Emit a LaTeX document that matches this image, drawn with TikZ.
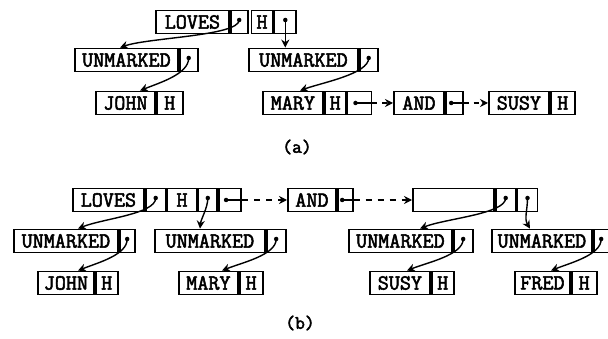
\documentclass[tikz,border=0pt]{standalone}
\usepackage{fontspec}
\usetikzlibrary{arrows.meta}
\newfontfamily\wordfont{Latin Modern Mono}[BoldFont={Latin Modern Mono},BoldFeatures={FakeBold=2.5}]
\newcommand\cellfont{\wordfont\bfseries\fontsize{21.5}{22}\selectfont}
\newcommand\capfont{\wordfont\bfseries\fontsize{19}{20}\selectfont}
\begin{document}
\begin{tikzpicture}[x=1pt,y=-1pt,
  cell/.style={draw, line width=1.8pt, minimum height=23pt, inner sep=0pt, anchor=west, font=\cellfont},
  ptr/.style={line width=1.4pt, -{Stealth[length=8pt,width=8pt]}},
  link/.style={line width=1.4pt},
  nxt/.style={line width=1.4pt, dash pattern=on 5pt off 5pt, -{Stealth[length=8pt,width=8pt]}},
  dot/.style={circle, fill, inner sep=0pt, minimum size=4.5pt},
]
\fill[white] (0,0) rectangle (608,339);
\useasboundingbox (0,0) rectangle (608,339);

% ---------- (a) ----------
\node[cell,minimum width=73] (lovesA) at (155,22) {LOVES};
\node[cell,minimum width=17] (lovesAp) at (lovesA.east) {};
\node[cell,minimum width=21] (hA) at ([xshift=2pt]lovesAp.east) {H};
\node[cell,minimum width=22] (hAp) at (hA.east) {};

\node[cell,minimum width=103] (unmA) at (74,60) {UNMARKED};
\node[cell,minimum width=18] (unmAp) at (unmA.east) {};
\node[cell,minimum width=109] (unmA2) at (248,60) {UNMARKED};
\node[cell,minimum width=18] (unmA2p) at (unmA2.east) {};

\node[cell,minimum width=59] (johnA) at (95,103) {JOHN};
\node[cell,minimum width=26] (johnAh) at (johnA.east) {H};
\node[cell,minimum width=60] (maryA) at (262,103) {MARY};
\node[cell,minimum width=21] (maryAh) at (maryA.east) {H};
\node[cell,minimum width=24] (maryAp) at (maryAh.east) {};
\node[cell,minimum width=50] (andA) at (393,103) {AND};
\node[cell,minimum width=17] (andAp) at (andA.east) {};
\node[cell,minimum width=60] (susyA) at (488,103) {SUSY};
\node[cell,minimum width=24] (susyAh) at (susyA.east) {H};

\node[dot] (a1) at ([yshift=2pt]lovesAp.center) {};
\draw[ptr] (a1.center) .. controls +(0,16) and +(28,-10) .. ([xshift=46pt]unmA.north west);
\node[dot] (a2) at ([yshift=2pt]hAp.center) {};
\draw[ptr] (a2.center) -- (a2.center |- unmA2.north);
\node[dot] (a3) at ([yshift=2pt]unmAp.center) {};
\draw[ptr] (a3.center) .. controls +(0,16) and +(20,-8) .. ([xshift=45pt]johnA.north west);
\node[dot] (a4) at ([yshift=2pt]unmA2p.center) {};
\draw[ptr] (a4.center) .. controls +(0,16) and +(22,-8) .. ([xshift=38pt]maryA.north west);
\node[dot] (a5) at ([xshift=-4pt]maryAp.center) {};
\draw[link] (a5.center) -- (maryAp.east);
\draw[nxt] (maryAp.east) -- (andA.west);
\node[dot] (a6) at ([xshift=-3pt]andAp.center) {};
\draw[link] (a6.center) -- (andAp.east);
\draw[nxt] (andAp.east) -- (susyA.west);

\node[font=\capfont] (capA) at (297,147) {(a)};

% ---------- (b) ----------
\node[cell,minimum width=71] (lovesB) at (72,200) {LOVES};
\node[cell,minimum width=20] (lovesBp) at (lovesB.east) {};
\node[cell,minimum width=29] (hB) at (lovesBp.east) {H};
\node[cell,minimum width=19] (hBp) at (hB.east) {};
\node[cell,minimum width=22] (nB) at (hBp.east) {};
\node[cell,minimum width=48] (andB) at (287,200) {AND};
\node[cell,minimum width=15] (andBp) at (andB.east) {};
\node[cell,minimum width=81] (emB) at (412,200) {};
\node[cell,minimum width=20] (emB1) at (emB.east) {};
\node[cell,minimum width=20] (emB2) at (emB1.east) {};

\node[cell,minimum width=104] (unmB1) at (13,241) {UNMARKED};
\node[cell,minimum width=15] (unmB1p) at (unmB1.east) {};
\node[cell,minimum width=110] (unmB2) at (154,241) {UNMARKED};
\node[cell,minimum width=19] (unmB2p) at (unmB2.east) {};
\node[cell,minimum width=103] (unmB3) at (348,241) {UNMARKED};
\node[cell,minimum width=19] (unmB3p) at (unmB3.east) {};
\node[cell,minimum width=100] (unmB4) at (491,241) {UNMARKED};
\node[cell,minimum width=15] (unmB4p) at (unmB4.east) {};

\node[cell,minimum width=56] (johnB) at (37,283) {JOHN};
\node[cell,minimum width=22] (johnBh) at (johnB.east) {H};
\node[cell,minimum width=59] (maryB) at (178,283) {MARY};
\node[cell,minimum width=23] (maryBh) at (maryB.east) {H};
\node[cell,minimum width=60] (susyB) at (369,283) {SUSY};
\node[cell,minimum width=22] (susyBh) at (susyB.east) {H};
\node[cell,minimum width=55] (fredB) at (514,283) {FRED};
\node[cell,minimum width=25] (fredBh) at (fredB.east) {H};

\node[dot] (b1) at ([yshift=2pt]lovesBp.center) {};
\draw[ptr] (b1.center) .. controls +(0,16) and +(25,-10) .. ([xshift=65pt]unmB1.north west);
\node[dot] (b2) at ([yshift=2pt]hBp.center) {};
\draw[ptr] (b2.center) .. controls +(0,10) and +(1,-10) .. ([xshift=46pt]unmB2.north west);
\node[dot] (b3) at ([xshift=-4pt]nB.center) {};
\draw[link] (b3.center) -- (nB.east);
\draw[nxt, dash pattern=on 6pt off 6pt] (nB.east) -- (andB.west);
\node[dot] (b4) at ([xshift=-3pt]andBp.center) {};
\draw[link] (b4.center) -- (andBp.east);
\draw[nxt, dash pattern=on 6pt off 6pt] (andBp.east) -- (emB.west);
\node[dot] (b5) at ([yshift=2pt]emB1.center) {};
\draw[ptr] (b5.center) .. controls +(0,16) and +(25,-10) .. ([xshift=72pt]unmB3.north west);
\node[dot] (b6) at ([yshift=2pt]emB2.center) {};
\draw[ptr] (b6.center) .. controls +(0,12) and +(-6,-10) .. ([xshift=39pt]unmB4.north west);

\node[dot] (b7) at ([yshift=2pt]unmB1p.center) {};
\draw[ptr] (b7.center) .. controls +(0,16) and +(20,-8) .. ([xshift=41pt]johnB.north west);
\node[dot] (b8) at ([yshift=2pt]unmB2p.center) {};
\draw[ptr] (b8.center) .. controls +(0,16) and +(20,-8) .. ([xshift=44pt]maryB.north west);
\node[dot] (b9) at ([yshift=2pt]unmB3p.center) {};
\draw[ptr] (b9.center) .. controls +(0,16) and +(20,-8) .. ([xshift=38pt]susyB.north west);
\node[dot] (b10) at ([yshift=2pt]unmB4p.center) {};
\draw[ptr] (b10.center) .. controls +(0,16) and +(20,-8) .. ([xshift=37pt]fredB.north west);

\node[font=\capfont] (capB) at (300,323) {(b)};
\end{tikzpicture}
\end{document}
